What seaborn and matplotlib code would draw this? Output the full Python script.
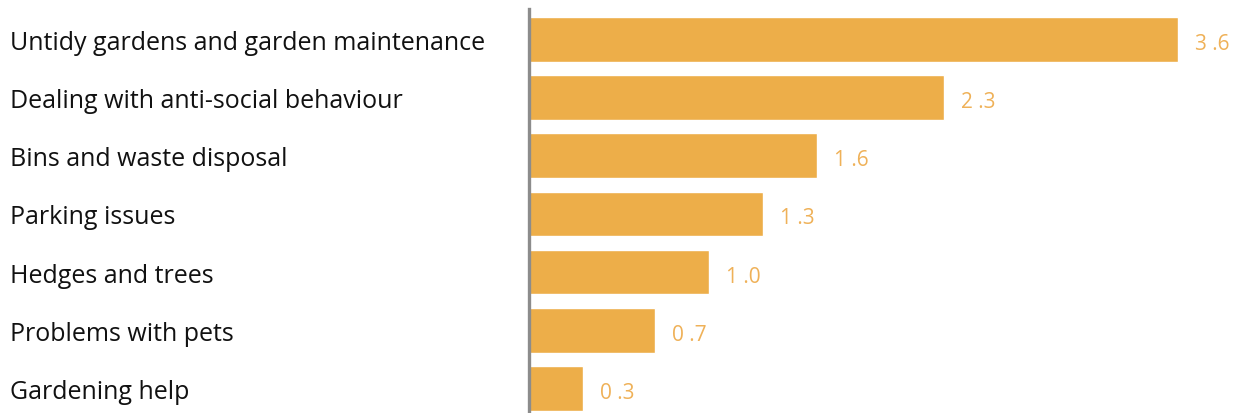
import matplotlib
matplotlib.use("Agg")
import matplotlib.pyplot as plt
import seaborn as sns
import pandas as pd

categories = [
    "Untidy gardens and garden maintenance",
    "Dealing with anti-social behaviour",
    "Bins and waste disposal",
    "Parking issues",
    "Hedges and trees",
    "Problems with pets",
    "Gardening help",
]
values = [3.6, 2.3, 1.6, 1.3, 1.0, 0.7, 0.3]

bar_color = "#EDAE49"
label_color = "#EFB158"

sns.set_theme(style="white")
plt.rcParams["font.family"] = ["Open Sans", "DejaVu Sans"]

df = pd.DataFrame({"category": categories, "value": values})

W, H, DPI = 1233, 414, 100
fig = plt.figure(figsize=(W / DPI, H / DPI), dpi=DPI)
ax_left = 529 / W
ax = fig.add_axes([ax_left, 0.0, 1 - ax_left, 1 - 10 / H])

sns.barplot(data=df, x="value", y="category", orient="h", color=bar_color,
            width=0.765, saturation=1, ax=ax)

ax.set_xlim(0, (W - 529) / 180.3)
ax.set_ylim(6.42, -0.52)
ax.set_xlabel("")
ax.set_ylabel("")
ax.set_xticks([])

for s in ["top", "right", "bottom"]:
    ax.spines[s].set_visible(False)
ax.spines["left"].set_color("#8C8C8C")
ax.spines["left"].set_linewidth(2.4)

# category labels flush left near the figure edge
pad_pt = (529 - 10) * 72 / DPI
ax.tick_params(axis="y", length=0, pad=pad_pt, labelsize=18, labelcolor="#111111")
for t in ax.get_yticklabels():
    t.set_horizontalalignment("left")
    t.set_verticalalignment("center_baseline")

for i, v in enumerate(values):
    ax.annotate(f"{v:.1f}".replace(".", " ."), xy=(v, i), xytext=(17, -4),
                textcoords="offset pixels", va="center", ha="left",
                fontsize=15, color=label_color)

fig.savefig("out.png", dpi=DPI)
